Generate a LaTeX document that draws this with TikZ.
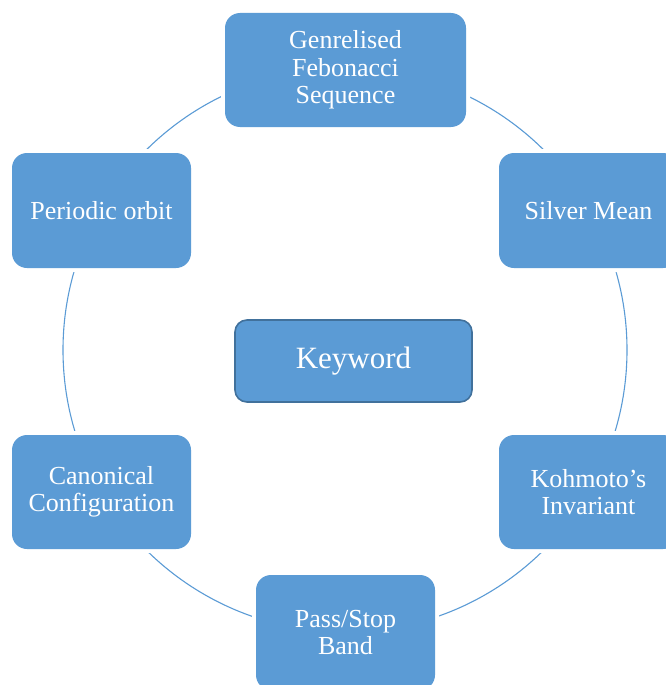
\documentclass[tikz,border=0pt]{standalone}
\usepackage{fontspec}
\setmainfont{Liberation Serif}
\definecolor{boxblue}{HTML}{5B9BD5}
\definecolor{boxedge}{HTML}{41719C}
\tikzset{
  item/.style={rectangle, rounded corners=15pt, fill=boxblue, text=white,
    align=center, inner sep=0pt,
    font=\fontsize{26}{27.5}\selectfont,
    preaction={draw=white, line width=8pt}},
  ring/.style={draw=boxblue, line width=1.1pt},
  centrebox/.style={rectangle, rounded corners=12pt, fill=boxblue, draw=boxedge,
    line width=1.6pt, text=white, inner sep=0pt,
    font=\fontsize{31}{34}\selectfont}
}
\begin{document}
\begin{tikzpicture}[x=1pt, y=-1pt]
  \useasboundingbox (0,0) rectangle (666,685);
  \clip (0,0) rectangle (666,685);
  % ring behind the keyword boxes
  \coordinate (hub) at (345,350);
  \draw[ring] (hub) circle[radius=282pt];
  % keyword boxes around the ring
  \node[item, minimum width=241pt, minimum height=114pt] (gfs) at (345.5,70)
    {Genrelised\\Febonacci\\Sequence};
  \node[item, minimum width=179pt, minimum height=115pt] (silver) at (588.5,210.5)
    {Silver Mean};
  \node[item, minimum width=179pt, minimum height=115pt] (orbit) at (101.5,210.5)
    {Periodic orbit};
  \node[item, minimum width=179pt, minimum height=114pt] (canon) at (101.5,492)
    {Canonical\\Configuration};
  \node[item, minimum width=179pt, minimum height=114pt] (kohmoto) at (588.5,492)
    {Kohmoto’s\\Invariant};
  \node[item, minimum width=179pt, minimum height=115pt] (band) at (345.5,632.5)
    {Pass/Stop\\Band};
  % central label
  \node[centrebox, minimum width=237pt, minimum height=82pt] (key) at (353.5,361)
    {\raisebox{3pt}{Keyword}};
\end{tikzpicture}
\end{document}
